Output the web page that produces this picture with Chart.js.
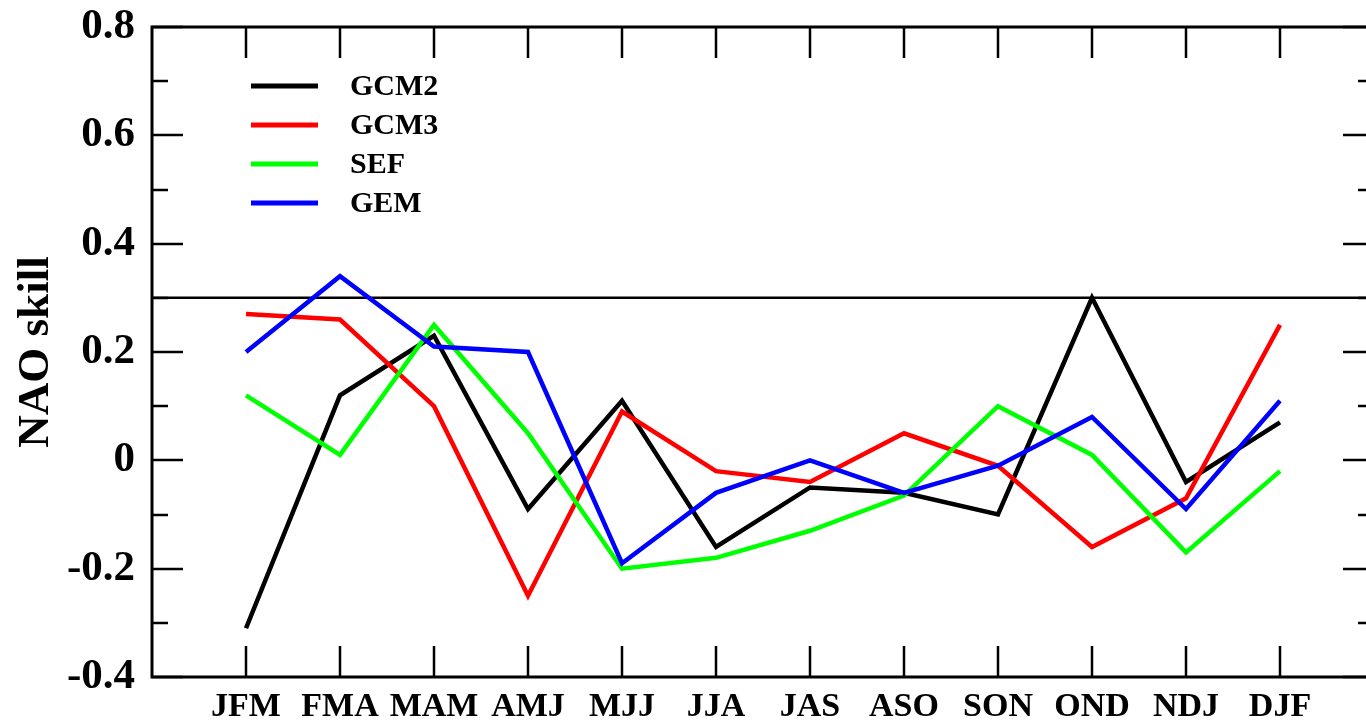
<!DOCTYPE html>
<html>
<head>
<meta charset="utf-8">
<script src="https://cdn.jsdelivr.net/npm/chart.js@4.4.1/dist/chart.umd.min.js"></script>
<style>
  html, body { margin: 0; padding: 0; background: #fff; overflow: hidden; }
  #wrap { width: 1366px; height: 725px; overflow: hidden; }
  canvas { display: block; }
</style>
</head>
<body>
<div id="wrap"><canvas id="c" width="1380" height="725"></canvas></div>
<script>
const categories = ['JFM','FMA','MAM','AMJ','MJJ','JJA','JAS','ASO','SON','OND','NDJ','DJF'];
const gcm2 = [-0.31, 0.12, 0.23, -0.09, 0.11, -0.16, -0.05, -0.06, -0.10, 0.30, -0.04, 0.07];
const gcm3 = [0.27, 0.26, 0.10, -0.25, 0.09, -0.02, -0.04, 0.05, -0.01, -0.16, -0.07, 0.25];
const sef  = [0.12, 0.01, 0.25, 0.05, -0.20, -0.18, -0.13, -0.065, 0.10, 0.01, -0.17, -0.02];
const gem  = [0.20, 0.34, 0.21, 0.20, -0.19, -0.06, 0.00, -0.06, -0.01, 0.08, -0.09, 0.11];
const seriesNames = ['GCM2', 'GCM3', 'SEF', 'GEM'];
const seriesColors = ['#000000', '#ff0000', '#00ff00', '#0000ff'];
const thresholdValue = 0.3;
const yMin = -0.4, yMax = 0.8, yStep = 0.2, yMinorStep = 0.1;

const seriesValues = [gcm2, gcm3, sef, gem];
const toPoints = arr => arr.map((v, i) => ({ x: i, y: v }));

const frame = {
  id: 'frame',
  beforeDatasetsDraw(chart) {
    const { ctx, chartArea: a, scales: { x, y } } = chart;
    ctx.save();
    ctx.strokeStyle = '#000';
    ctx.lineWidth = 2.5;
    const ty = y.getPixelForValue(thresholdValue);
    ctx.beginPath(); ctx.moveTo(a.left, ty); ctx.lineTo(a.right, ty); ctx.stroke();
    ctx.restore();
  },
  afterDatasetsDraw(chart) {
    const { ctx, chartArea: a, scales: { x, y } } = chart;
    ctx.save();
    ctx.strokeStyle = '#000';
    ctx.lineCap = 'butt';
    ctx.lineWidth = 2.5;
    categories.forEach((c, i) => {
      const px = Math.round(x.getPixelForValue(i));
      ctx.beginPath(); ctx.moveTo(px, a.top); ctx.lineTo(px, a.top + 31); ctx.stroke();
      ctx.beginPath(); ctx.moveTo(px, a.bottom); ctx.lineTo(px, a.bottom - 31); ctx.stroke();
    });
    const n = Math.round((yMax - yMin) / yMinorStep);
    for (let k = 0; k <= n; k++) {
      const v = yMin + k * yMinorStep;
      const major = k % 2 === 0;
      const len = major ? 31 : 16;
      const py = Math.round(y.getPixelForValue(v));
      ctx.beginPath(); ctx.moveTo(a.left, py); ctx.lineTo(a.left + len, py); ctx.stroke();
      ctx.beginPath(); ctx.moveTo(a.right, py); ctx.lineTo(a.right - len, py); ctx.stroke();
    }
    ctx.lineWidth = 3;
    ctx.strokeRect(a.left, a.top, a.right - a.left, a.bottom - a.top);
    const legendX = 251, legendLen = 67, legendY0 = 86, legendDy = 39;
    ctx.font = 'bold 30px "Liberation Serif", "DejaVu Serif", serif';
    ctx.textBaseline = 'middle';
    ctx.textAlign = 'left';
    seriesNames.forEach((name, i) => {
      const ly = legendY0 + i * legendDy;
      ctx.strokeStyle = seriesColors[i];
      ctx.lineWidth = 5;
      ctx.beginPath(); ctx.moveTo(legendX, ly); ctx.lineTo(legendX + legendLen, ly); ctx.stroke();
      ctx.fillStyle = '#000';
      ctx.fillText(name, 350, ly + 1);
    });
    ctx.restore();
  }
};

const drawOrder = [3, 2, 1, 0];

new Chart(document.getElementById('c'), {
  type: 'line',
  data: {
    datasets: seriesValues.map((vals, i) => ({
      label: seriesNames[i],
      data: toPoints(vals),
      borderColor: seriesColors[i],
      backgroundColor: seriesColors[i],
      borderWidth: 4.5,
      pointRadius: 0,
      tension: 0,
      fill: false,
      borderJoinStyle: 'miter',
      borderCapStyle: 'butt',
      order: drawOrder[i]
    }))
  },
  options: {
    responsive: false,
    animation: false,
    devicePixelRatio: 1,
    layout: { padding: { top: 27, right: 6, left: 0, bottom: 0 } },
    plugins: { legend: { display: false }, tooltip: { enabled: false } },
    scales: {
      x: {
        type: 'linear',
        min: -1, max: 12,
        grid: { display: false, drawTicks: false },
        border: { display: false },
        afterFit(s) { s.height = 48; s.paddingLeft = 0; s.paddingRight = 0; },
        afterBuildTicks(s) {
          s.ticks = categories.map((c, i) => ({ value: i }));
        },
        ticks: {
          autoSkip: false,
          maxRotation: 0,
          padding: 10,
          color: '#000',
          font: { family: '"Liberation Serif", "DejaVu Serif", serif', size: 34, weight: 'bold' },
          callback: v => categories[v] !== undefined ? categories[v] : ''
        }
      },
      y: {
        min: yMin, max: yMax,
        grid: { display: false, drawTicks: false },
        border: { display: false },
        afterFit(s) { s.width = 152; s.paddingTop = 0; s.paddingBottom = 0; },
        title: {
          display: true,
          text: 'NAO skill',
          color: '#000',
          padding: { top: 9, bottom: 0 },
          font: { family: '"Liberation Serif", "DejaVu Serif", serif', size: 45, weight: 'bold' }
        },
        ticks: {
          stepSize: yStep,
          padding: 17,
          color: '#000',
          font: { family: '"Liberation Serif", "DejaVu Serif", serif', size: 43, weight: 'bold' },
          callback: v => Math.abs(v) < 1e-9 ? '0' : Number(v).toFixed(1)
        }
      }
    }
  },
  plugins: [frame]
});
</script>
</body>
</html>
